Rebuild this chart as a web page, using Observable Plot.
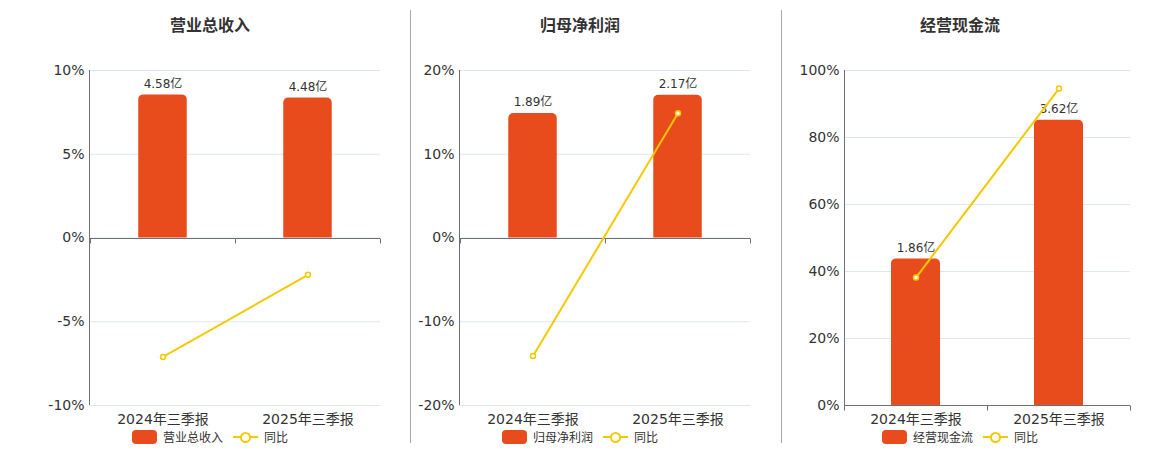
<!DOCTYPE html>
<html>
<head>
<meta charset="utf-8">
<script src="https://cdn.jsdelivr.net/npm/d3@7"></script>
<script src="https://cdn.jsdelivr.net/npm/@observablehq/plot@0.6"></script>
<style>
  html, body { margin: 0; padding: 0; background: #fff; }
  body { font-family: "DejaVu Sans", "Noto Sans CJK SC", sans-serif; color: #333; }
  #root { position: relative; width: 1160px; height: 450px; overflow: hidden; }
  .title { position: absolute; top: 12px; font-size: 16px; font-weight: bold; color: #333; white-space: nowrap; transform: translateX(-50%); }
  .legend { position: absolute; top: 428px; font-size: 12px; color: #333; white-space: nowrap; transform: translateX(-50%); display: flex; align-items: center; }
  .sw { display: inline-block; width: 25px; height: 14px; border-radius: 4px; background: #e84c1c; margin-right: 6px; }
  .ln { display: inline-block; position: relative; width: 25px; height: 14px; margin: 0 6px 0 10px; }
  .ln::before { content: ""; position: absolute; left: 0; right: 0; top: 6px; height: 2px; background: #f5c800; }
  .ln::after { content: ""; position: absolute; left: 7px; top: 2px; width: 7px; height: 7px; border: 2px solid #f5c800; border-radius: 50%; background: #fff; }
  .divider { position: absolute; top: 10px; height: 433px; width: 1px; background: #aaa; }
  .panel { position: absolute; top: 40px; }
</style>
</head>
<body>
<div id="root"></div>
<script>
// ---- data ----
const periods = ["2024年三季报", "2025年三季报"];
const titles = ["营业总收入", "归母净利润", "经营现金流"];
const revenue = [4.58, 4.48];          // 亿
const revenueYoY = [-7.1, -2.2];       // %
const netProfit = [1.89, 2.17];        // 亿
const netProfitYoY = [-14.1, 14.9];    // %
const cashFlow = [1.86, 3.62];         // 亿
const cashFlowYoY = [38.2, 94.6];      // %
const pctTicks1 = [-10, -5, 0, 5, 10];
const pctTicks2 = [-20, -10, 0, 10, 20];
const pctTicks3 = [0, 20, 40, 60, 80, 100];
const barAxisMax = [5.36, 2.545, 4.25]; // secondary (hidden) bar axis top, 亿

const BAR = "#e84c1c", LINE = "#f5c800", AXIS = "#6e7079", GRID = "#e0e6f1";

const panels = [
  {title: titles[0], values: revenue, yoy: revenueYoY, ticks: pctTicks1, barMax: barAxisMax[0],
   left: 0, width: 400, ml: 89, mr: 20, center: 210, divider: null},
  {title: titles[1], values: netProfit, yoy: netProfitYoY, ticks: pctTicks2, barMax: barAxisMax[1],
   left: 411, width: 360, ml: 48, mr: 21, center: 580, divider: 410},
  {title: titles[2], values: cashFlow, yoy: cashFlowYoY, ticks: pctTicks3, barMax: barAxisMax[2],
   left: 782, width: 370, ml: 62, mr: 22, center: 960, divider: 781}
];

const root = document.getElementById("root");
const MT = 30, MB = 35, H = 400;

panels.forEach(p => {
  const pctMax = d3.max(p.ticks);
  const data = periods.map((period, i) => ({
    period, value: p.values[i], yoy: p.yoy[i],
    barPct: p.values[i] / p.barMax * pctMax
  }));
  const bandW = (p.width - p.ml - p.mr) / periods.length;
  const inset = (bandW - 49) / 2;

  const axisMarks = (index, scales, values, dim) => {
    const ns = "http://www.w3.org/2000/svg";
    const g = document.createElementNS(ns, "g");
    const mk = (x1, y1, x2, y2) => {
      const l = document.createElementNS(ns, "line");
      l.setAttribute("x1", x1); l.setAttribute("y1", y1);
      l.setAttribute("x2", x2); l.setAttribute("y2", y2);
      l.setAttribute("stroke", AXIS); l.setAttribute("stroke-width", 1);
      g.appendChild(l);
    };
    const x0 = dim.marginLeft, x1 = dim.width - dim.marginRight;
    const yTop = dim.marginTop, yBot = dim.height - dim.marginBottom;
    mk(x0 + 0.5, yTop, x0 + 0.5, yBot);
    const y0 = Math.round(scales.y(0)) + 0.5;
    mk(x0, y0, x1, y0);
    const bw = scales.x.bandwidth ? scales.x.bandwidth() : (x1 - x0) / periods.length;
    const bounds = periods.map(c => scales.x(c)).concat([scales.x(periods[periods.length - 1]) + bw]);
    bounds.forEach(b => mk(Math.round(b) + 0.5, y0, Math.round(b) + 0.5, y0 + 5));
    return g;
  };

  const chart = Plot.plot({
    width: p.width, height: H,
    marginLeft: p.ml, marginRight: p.mr, marginTop: MT, marginBottom: MB,
    style: {fontFamily: '"DejaVu Sans", "Noto Sans CJK SC", sans-serif', fontSize: "14px", color: "#333", background: "transparent"},
    x: {type: "band", domain: periods, padding: 0},
    y: {domain: d3.extent(p.ticks)},
    marks: [
      Plot.gridY(p.ticks, {stroke: GRID, strokeOpacity: 1}),
      Plot.barY(data, {x: "period", y: "barPct", fill: BAR, insetLeft: inset, insetRight: inset, ry1: 5}),
      Plot.text(data, {x: "period", y: "barPct", text: d => d.value.toFixed(2) + "亿", dy: -11, fontSize: 12, fill: "#333"}),
      axisMarks,
      Plot.line(data, {x: "period", y: "yoy", stroke: LINE, strokeWidth: 2}),
      Plot.dot(data, {x: "period", y: "yoy", r: 2.5, fill: "#fff", stroke: LINE, strokeWidth: 1.5}),
      Plot.axisY(p.ticks, {tickSize: 0, tickPadding: 5, fontSize: 14, fill: "#333", tickFormat: d => d + "%"}),
      Plot.axisX({tickSize: 0, tickPadding: 9, fontSize: 14, fill: "#333", label: null})
    ]
  });
  const wrap = document.createElement("div");
  wrap.className = "panel";
  wrap.style.left = p.left + "px";
  wrap.appendChild(chart);
  root.appendChild(wrap);

  const t = document.createElement("div");
  t.className = "title"; t.style.left = p.center + "px"; t.textContent = p.title;
  root.appendChild(t);

  const lg = document.createElement("div");
  lg.className = "legend"; lg.style.left = p.center + "px";
  lg.innerHTML = `<span class="sw"></span><span>${p.title}</span><span class="ln"></span><span>同比</span>`;
  root.appendChild(lg);

  if (p.divider != null) {
    const d = document.createElement("div");
    d.className = "divider"; d.style.left = p.divider + "px";
    root.appendChild(d);
  }
});
</script>
</body>
</html>
